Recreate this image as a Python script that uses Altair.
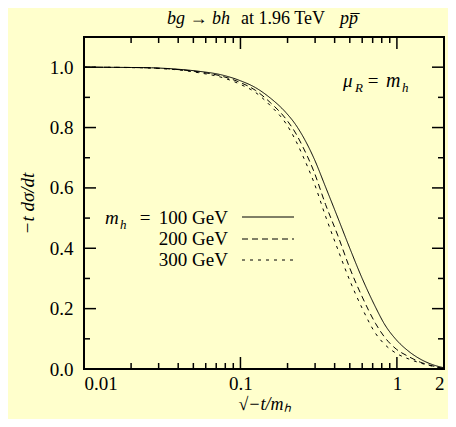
import altair as alt
import pandas as pd

# ---- data ----
x_vals = [0.01, 0.02, 0.027, 0.038, 0.055, 0.075, 0.1, 0.125, 0.155, 0.195, 0.225, 0.25,
          0.295, 0.35, 0.42, 0.5, 0.6, 0.73, 0.83, 0.99, 1.18, 1.42, 1.7, 2.0]
y_100 = [1.000, 0.999, 0.998, 0.994, 0.986, 0.975, 0.955, 0.932, 0.898, 0.850, 0.810, 0.772,
         0.698, 0.603, 0.500, 0.400, 0.300, 0.205, 0.150, 0.097, 0.060, 0.032, 0.014, 0.004]
y_200 = [1.000, 0.999, 0.9975, 0.993, 0.984, 0.971, 0.949, 0.923, 0.883, 0.829, 0.782, 0.737,
         0.654, 0.545, 0.441, 0.334, 0.239, 0.151, 0.107, 0.066, 0.042, 0.022, 0.010, 0.002]
y_300 = [1.000, 0.9985, 0.997, 0.992, 0.981, 0.967, 0.943, 0.916, 0.873, 0.814, 0.758, 0.707,
         0.618, 0.506, 0.395, 0.293, 0.201, 0.118, 0.083, 0.052, 0.034, 0.0195, 0.009, 0.002]
series_names = ["100 GeV", "200 GeV", "300 GeV"]

x_label_vals = [0.01, 0.1, 1, 2]
y_label_vals = [0.0, 0.2, 0.4, 0.6, 0.8, 1.0]
x_major_ticks = [0.1, 1]
x_minor_ticks = [0.02, 0.03, 0.04, 0.05, 0.06, 0.07, 0.08, 0.09,
                 0.2, 0.3, 0.4, 0.5, 0.6, 0.7, 0.8, 0.9]
y_major_ticks = [0.2, 0.4, 0.6, 0.8, 1.0]
y_minor_ticks = [0.1, 0.3, 0.5, 0.7, 0.9]

# ---- styling ----
W, H = 360, 332
BG = "#ffffcc"
FONT = "Liberation Serif"
FS = 19

rows = []
for name, ys in zip(series_names, [y_100, y_200, y_300]):
    for xv, yv in zip(x_vals, ys):
        rows.append({"x": xv, "y": yv, "series": name})
curves_df = pd.DataFrame(rows)

xscale = alt.Scale(type="log", domain=[0.01, 2], nice=False)
yscale = alt.Scale(domain=[0, 1.1], nice=False, zero=False)
dashes = [[1, 0], [6, 4], [3, 5]]

x_axis = alt.Axis(values=x_label_vals, format="~g", title="√−t/mₕ",
                  labelPadding=5, titlePadding=2, titleFontSize=18)
y_axis = alt.Axis(values=y_label_vals, format=".1f", title="−t dσ/dt",
                  labelPadding=11, titlePadding=12)

curves = alt.Chart(curves_df).mark_line(color="black", strokeWidth=1, interpolate="monotone").encode(
    x=alt.X("x:Q", scale=xscale, axis=x_axis),
    y=alt.Y("y:Q", scale=yscale, axis=y_axis),
    strokeDash=alt.StrokeDash("series:N", scale=alt.Scale(domain=series_names, range=dashes), legend=None),
)


def xticks(vals, length):
    df = pd.DataFrame({"x": vals})
    base = alt.Chart(df).mark_rule(color="black", strokeWidth=1.5)
    enc_x = alt.X("x:Q", scale=xscale, axis=x_axis)
    return (base.encode(x=enc_x, y=alt.value(H), y2=alt.value(H - length)) +
            base.encode(x=enc_x, y=alt.value(0), y2=alt.value(length)))


def yticks(vals, length):
    df = pd.DataFrame({"y": vals})
    base = alt.Chart(df).mark_rule(color="black", strokeWidth=1.5)
    enc_y = alt.Y("y:Q", scale=yscale, axis=y_axis)
    return (base.encode(y=enc_y, x=alt.value(0), x2=alt.value(length)) +
            base.encode(y=enc_y, x=alt.value(W), x2=alt.value(W - length)))


one = pd.DataFrame({"k": [0]})


def label(text, x, y, size=FS, style="normal", align="left"):
    return alt.Chart(one).mark_text(text=text, font=FONT, fontSize=size, fontStyle=style,
                                    align=align, baseline="alphabetic", color="black").encode(
        x=alt.value(x), y=alt.value(y))


def legend_line(dash, y):
    return alt.Chart(one).mark_rule(color="black", strokeWidth=1, strokeDash=dash).encode(
        x=alt.value(158), x2=alt.value(210), y=alt.value(y))


annotations = [
    # title
    label("bg → bh", 146, -13, size=18, style="italic", align="right"),
    label("at 1.96 TeV", 199, -13, size=18, align="center"),
    label("pp", 256, -13, size=18, style="italic"),
    label("¯", 271, -10, size=18, align="center"),
    # mu_R = m_h
    label("μ", 259, 50, style="italic"),
    label("R", 271, 55, size=13, style="italic"),
    label("=", 289, 50, align="center"),
    label("m", 302, 50, size=20, style="italic"),
    label("h", 318, 55, size=13, style="italic"),
    # legend
    label("m", 21, 187, style="italic"),
    label("h", 36, 192, size=13, style="italic"),
    label("=", 61, 187, align="center"),
    label(series_names[0], 144, 187, align="right"),
    label(series_names[1], 144, 208, align="right"),
    label(series_names[2], 144, 229, align="right"),
    legend_line(dashes[0], 180),
    legend_line(dashes[1], 202),
    legend_line(dashes[2], 223),
]

chart = alt.layer(
    curves,
    xticks(x_major_ticks, 12), xticks(x_minor_ticks, 6),
    yticks(y_major_ticks, 12), yticks(y_minor_ticks, 6),
    *annotations,
).properties(
    width=W, height=H,
    padding={"left": 76, "top": 29, "right": 4, "bottom": 50},
    autosize=alt.AutoSizeParams(type="none"),
    background=BG,
).configure_view(
    stroke="black", strokeWidth=2
).configure_axis(
    ticks=False, domain=False, grid=False,
    labelFont=FONT, labelFontSize=FS, labelColor="black",
    titleFont=FONT, titleFontSize=FS, titleFontWeight="normal", titleFontStyle="italic",
    titleColor="black",
)

chart.save("out.html", embed_options={"renderer": "svg", "actions": False})
